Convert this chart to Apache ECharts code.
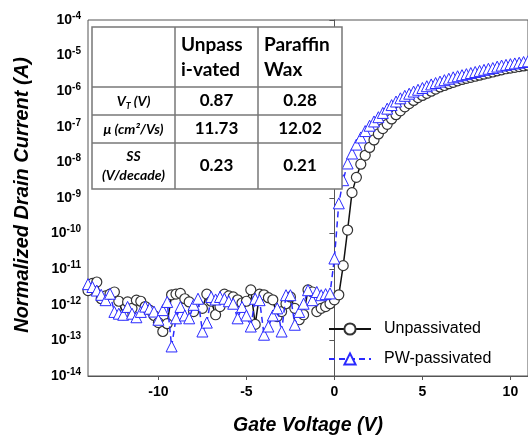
<!DOCTYPE html>
<html>
<head>
<meta charset="utf-8">
<script src="https://cdn.jsdelivr.net/npm/echarts@6/dist/echarts.min.js"></script>
<style>
  html, body { margin: 0; padding: 0; background: #fff; }
  #chart { width: 528px; height: 441px; }
</style>
</head>
<body>
<div id="chart"></div>
<script>
// gate sweep (V)
var gateV = [
  -14, -13.75, -13.5, -13.25, -13, -12.75, -12.5, -12.25, -12, -11.75, -11.5, -11.25, -11,
  -10.75, -10.5, -10.25, -10, -9.75, -9.5, -9.25, -9, -8.75, -8.5, -8.25, -8,
  -7.75, -7.5, -7.25, -7, -6.75, -6.5, -6.25, -6, -5.75, -5.5, -5.25, -5,
  -4.75, -4.5, -4.25, -4, -3.75, -3.5, -3.25, -3, -2.75, -2.5, -2.25, -2,
  -1.75, -1.5, -1.25, -1, -0.75, -0.5, -0.25, 0, 0.25, 0.5, 0.75, 1,
  1.25, 1.5, 1.75, 2, 2.25, 2.5, 2.75, 3, 3.25, 3.5, 3.75, 4,
  4.25, 4.5, 4.75, 5, 5.25, 5.5, 5.75, 6, 6.25, 6.5, 6.75, 7,
  7.25, 7.5, 7.75, 8, 8.25, 8.5, 8.75, 9, 9.25, 9.5, 9.75, 10,
  10.25, 10.5, 10.75, 11
]
// log10 of drain current
var unpassLogI = [
  -11.6, -11.4, -11.36, -11.83, -11.75, -11.7, -11.64, -11.9, -12.28, -11.92, -12.1, -11.87, -11.9,
  -12.05, -12.15, -12.3, -12.5, -12.75, -12.53, -11.72, -11.7, -11.68, -11.83, -11.92, -12.19,
  -12.0, -12.1, -11.7, -11.9, -12.28, -12.05, -11.7, -11.75, -11.78, -11.86, -11.95, -11.9,
  -11.58, -12.55, -11.7, -11.72, -11.8, -11.86, -12.33, -12.19, -11.97, -11.78, -12.1, -12.42,
  -12.28, -11.58, -11.64, -12.19, -12.1, -12.05, -11.97, -11.86, -11.72, -10.9, -9.9, -8.85,
  -8.42, -8.05, -7.8, -7.58, -7.37, -7.2, -7.05, -6.93, -6.78, -6.66, -6.55, -6.44,
  -6.35, -6.26, -6.18, -6.12, -6.06, -6.0, -5.94, -5.88, -5.84, -5.79, -5.75, -5.71,
  -5.67, -5.64, -5.61, -5.58, -5.55, -5.52, -5.49, -5.46, -5.43, -5.4, -5.37, -5.35,
  -5.33, -5.31, -5.29, -5.27
]
var pwLogI = [
  -11.42, -11.5, -11.6, -11.72, -11.87, -11.69, -12.2, -12.25, -12.28, -12.06, -12.25, -12.35, -12.2,
  -12.05, -12.11, -12.19, -12.42, -12.15, -11.92, -13.17, -12.38, -12.06, -12.3, -12.38, -12.0,
  -11.83, -12.75, -12.5, -11.78, -11.85, -11.78, -11.83, -11.9, -11.97, -12.38, -12.06, -12.3,
  -12.61, -11.83, -11.87, -12.84, -12.61, -12.3, -12.1, -12.75, -11.73, -11.73, -12.56, -12.2,
  -11.97, -11.59, -11.87, -11.64, -11.73, -11.7, -11.68, -10.7, -9.15, -8.5, -8.03, -7.75,
  -7.5, -7.3, -7.12, -6.97, -6.85, -6.73, -6.61, -6.49, -6.39, -6.29, -6.2, -6.13,
  -6.07, -6.01, -5.96, -5.91, -5.86, -5.81, -5.77, -5.73, -5.69, -5.65, -5.61, -5.58,
  -5.55, -5.52, -5.49, -5.46, -5.43, -5.4, -5.37, -5.35, -5.31, -5.28, -5.26, -5.24,
  -5.22, -5.2, -5.18, -5.16
]
var xTicks = [-10, -5, 0, 5, 10]
var yTicks = [1e-14, 1e-13, 1e-12, 1e-11, 1e-10, 1e-9, 1e-8, 1e-7, 1e-6, 1e-5, 1e-4]
var seriesNames = ['Unpassivated', 'PW-passivated']

// inset table
var tableHead = [['Unpass', 'i-vated'], ['Paraffin', 'Wax']]
var tableRows = ['{i|V}{sub|T}{i| (V)}', '{i|μ (cm²/Vs)}', '{i|SS}\n{i|(V/decade)}']
var unpassParams = ['0.87', '11.73', '0.23']
var pwParams = ['0.28', '12.02', '0.21']

function toPairs (logs) {
  var out = []
  for (var i = 0; i < gateV.length; i++) {
    out.push([gateV[i], Math.pow(10, logs[i])])
  }
  return out
}

var chart = echarts.init(document.getElementById('chart'))

var tFont = 'Lato, "Open Sans", sans-serif'
var tLine = { stroke: '#777', lineWidth: 1.5 }
var tx = [92, 175, 258, 342]
var ty = [27, 87, 115, 143, 189]

var graphics = []
// table frame
graphics.push({ type: 'rect', shape: { x: tx[0], y: ty[0], width: tx[3] - tx[0], height: ty[4] - ty[0] }, style: { fill: '#fff', stroke: '#777', lineWidth: 1.5 }, z: 10 })
graphics.push({ type: 'line', shape: { x1: tx[1], y1: ty[0], x2: tx[1], y2: ty[4] }, style: tLine, z: 11 })
graphics.push({ type: 'line', shape: { x1: tx[2], y1: ty[0], x2: tx[2], y2: ty[4] }, style: tLine, z: 11 })
for (var r = 1; r < 4; r++) {
  graphics.push({ type: 'line', shape: { x1: tx[0], y1: ty[r], x2: tx[3], y2: ty[r] }, style: tLine, z: 11 })
}
// header
for (var c = 0; c < 2; c++) {
  graphics.push({
    type: 'text', z: 12,
    style: { text: tableHead[c].join('\n'), x: tx[c + 1] + 6, y: 57, align: 'left', verticalAlign: 'middle', lineHeight: 25, font: 'bold 19px ' + tFont, fill: '#000' }
  })
}
// rows
for (var k = 0; k < 3; k++) {
  var cy = (ty[k + 1] + ty[k + 2]) / 2
  graphics.push({
    type: 'text', z: 12,
    style: {
      text: tableRows[k], x: (tx[0] + tx[1]) / 2, y: cy, align: 'center', verticalAlign: 'middle',
      rich: {
        i: { fontSize: 14, fontWeight: 'bold', fontStyle: 'italic', fontFamily: tFont, lineHeight: 19, fill: '#000' },
        sub: { fontSize: 9, fontWeight: 'bold', fontStyle: 'italic', fontFamily: tFont, verticalAlign: 'bottom', lineHeight: 19, fill: '#000' }
      }
    }
  })
  graphics.push({ type: 'text', z: 12, style: { text: unpassParams[k], x: (tx[1] + tx[2]) / 2, y: cy, align: 'center', verticalAlign: 'middle', font: 'bold 17px ' + tFont, fill: '#000' } })
  graphics.push({ type: 'text', z: 12, style: { text: pwParams[k], x: (tx[2] + tx[3]) / 2, y: cy, align: 'center', verticalAlign: 'middle', font: 'bold 17px ' + tFont, fill: '#000' } })
}

var option = {
  backgroundColor: '#fff',
  animation: false,
  grid: {
    left: 88,
    top: 20,
    right: -2,
    bottom: 60,
    show: true,
    borderColor: '#555',
    borderWidth: 1
  },
  legend: {
    data: seriesNames,
    orient: 'vertical',
    left: 328,
    top: 321,
    padding: 0,
    itemWidth: 42,
    itemHeight: 14,
    itemGap: 14,
    textStyle: { fontFamily: 'Liberation Sans, Arial', fontSize: 16, color: '#000', padding: [0, 0, 0, 8] }
  },
  xAxis: {
    type: 'value',
    min: -14,
    max: 11,
    name: 'Gate Voltage (V)',
    nameLocation: 'middle',
    nameGap: 40,
    nameTextStyle: { fontFamily: 'Liberation Sans, Arial', fontSize: 19.5, fontWeight: 'bold', fontStyle: 'italic', color: '#000' },
    splitLine: { show: false },
    axisLine: { lineStyle: { color: '#555', width: 1 } },
    axisTick: { customValues: xTicks, length: 4, lineStyle: { color: '#555' } },
    axisLabel: { customValues: xTicks, fontFamily: 'Liberation Sans, Arial', fontSize: 14, fontWeight: 'bold', color: '#000', margin: 9 }
  },
  yAxis: {
    type: 'log',
    logBase: 10,
    min: 1e-14,
    max: 1e-4,
    name: 'Normalized Drain Current (A)',
    nameLocation: 'middle',
    nameGap: 56,
    nameTextStyle: { fontFamily: 'Liberation Sans, Arial', fontSize: 20, fontWeight: 'bold', fontStyle: 'italic', color: '#000', padding: [0, 0, 0, 6] },
    splitLine: { show: false },
    axisLine: { show: true, lineStyle: { color: '#555', width: 1 } },
    axisTick: { show: true, customValues: yTicks, length: 5, lineStyle: { color: '#555' } },
    minorTick: { show: false },
    axisLabel: {
      customValues: yTicks,
      margin: 7,
      formatter: function (v) {
        var e = Math.round(Math.log(v) / Math.LN10)
        return '{b|10}{s|' + e + '}'
      },
      rich: {
        b: { fontFamily: 'Liberation Sans, Arial', fontSize: 14, fontWeight: 'bold', color: '#000', lineHeight: 18 },
        s: { fontFamily: 'Liberation Sans, Arial', fontSize: 10, fontWeight: 'bold', color: '#000', verticalAlign: 'top', lineHeight: 18 }
      }
    }
  },
  series: [
    {
      name: seriesNames[0],
      type: 'line',
      data: toPairs(unpassLogI),
      symbol: 'circle',
      symbolSize: 10,
      lineStyle: { color: '#111', width: 1.5 },
      itemStyle: { color: '#fff', borderColor: '#333', borderWidth: 1.2 },
      z: 2
    },
    {
      name: seriesNames[1],
      type: 'line',
      data: toPairs(pwLogI),
      symbol: 'triangle',
      symbolSize: 11,
      lineStyle: { color: '#2a2aff', width: 1.5, type: [6, 4] },
      itemStyle: { color: '#fff', borderColor: '#2a2aff', borderWidth: 1 },
      z: 3
    }
  ],
  graphic: graphics
}

chart.setOption(option)
</script>
</body>
</html>
